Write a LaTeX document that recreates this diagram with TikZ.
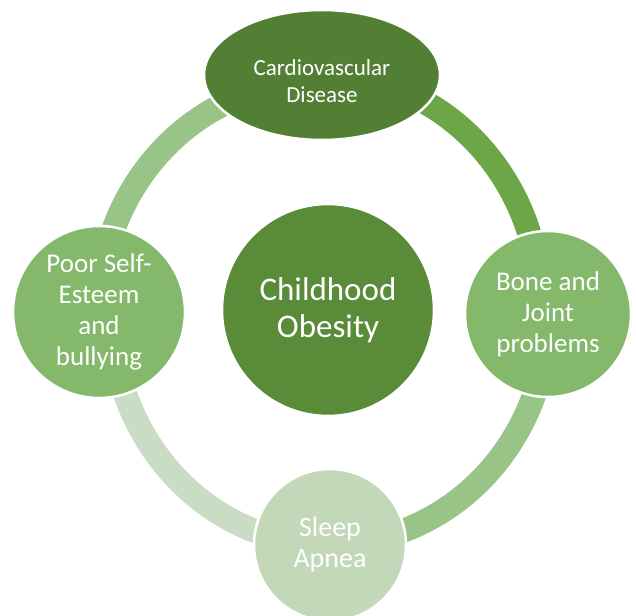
\documentclass[tikz,border=0pt]{standalone}
\usepackage{fontspec}
\setmainfont{Carlito}
\usetikzlibrary{shapes.geometric,backgrounds}
\definecolor{gdark}{HTML}{527F34}
\definecolor{gcent}{HTML}{598B39}
\definecolor{gmid}{HTML}{84B86A}
\definecolor{glight}{HTML}{C3D7B9}
\definecolor{arcA}{HTML}{6CA646}
\definecolor{arcB}{HTML}{98C487}
\definecolor{arcC}{HTML}{C9DCC4}

\begin{document}
\begin{tikzpicture}[x=1pt, y=-1pt,
  myv/.style={circle, draw=white, line width=2.5pt, text=white, align=center, inner sep=0pt},
  myring/.style={line width=24pt}]
  \useasboundingbox (0,0) rectangle (636,615);
  \clip (0,0) rectangle (636,615);

  \node[myv, fill=gcent, minimum size=212pt, font=\fontsize{33}{37}\selectfont] (c) at (328,310) {Childhood\\Obesity};
  \node[myv, ellipse, fill=gdark, minimum width=236pt, minimum height=130pt, font=\fontsize{23}{27}\selectfont] (t) at (322,75)
    {\raisebox{-9pt}[\height][\depth]{\begin{tabular}{@{}c@{}}Cardiovascular\\Disease\end{tabular}}};
  \node[myv, fill=gmid, minimum size=166pt, font=\fontsize{27}{31}\selectfont] (r) at (548,314) {Bone and\\Joint\\problems};
  \node[myv, fill=glight, minimum size=152pt, font=\fontsize{28}{31}\selectfont] (b) at (330,545) {Sleep\\Apnea};
  \node[myv, fill=gmid, minimum size=172pt, font=\fontsize{27}{31}\selectfont] (l) at (99,312) {Poor Self-\\Esteem\\and\\bullying};

  \begin{scope}[on background layer]
    \draw[myring, arcA] (t.center) arc[start angle=-90, end angle=0, x radius=218, y radius=230];
    \draw[myring, arcB] (r.center) arc[start angle=0, end angle=90, x radius=218, y radius=230];
    \draw[myring, arcC] (b.center) arc[start angle=90, end angle=180, x radius=218, y radius=230];
    \draw[myring, arcB] (l.center) arc[start angle=180, end angle=270, x radius=218, y radius=230];
  \end{scope}
\end{tikzpicture}
\end{document}
